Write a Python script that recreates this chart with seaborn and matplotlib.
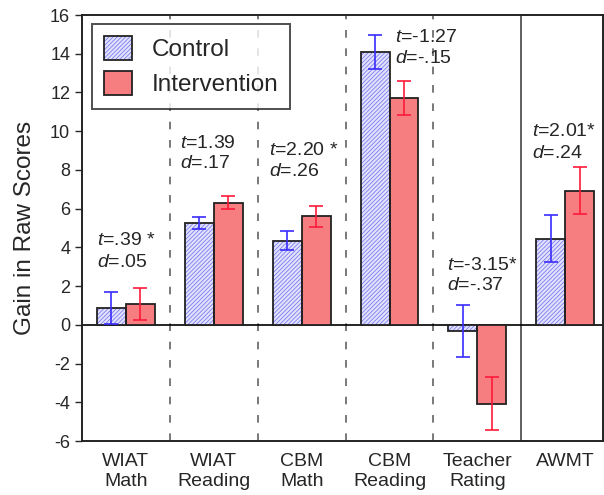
import matplotlib
matplotlib.use("Agg")
import matplotlib.pyplot as plt
import seaborn as sns
import pandas as pd
from matplotlib.patches import Patch, Rectangle
from matplotlib.legend_handler import HandlerTuple

# ---- data ----
categories = ["WIAT\nMath", "WIAT\nReading", "CBM\nMath", "CBM\nReading", "Teacher\nRating", "AWMT"]
control_vals = [0.87, 5.25, 4.35, 14.08, -0.32, 4.45]
control_err = [0.85, 0.30, 0.50, 0.87, 1.33, 1.20]
interv_vals = [1.07, 6.30, 5.60, 11.70, -4.07, 6.93]
interv_err = [0.84, 0.33, 0.55, 0.87, 1.35, 1.22]
t_labels = ["=.39 *", "=1.39", "=2.20 *", "=-1.27", "=-3.15*", "=2.01*"]
d_labels = ["=.05", "=.17", "=.26", "=-.15", "=-.37", "=.24"]
groups = ["Control", "Intervention"]

# annotation layout (x start in category units, baselines in data units)
ann_x = [-0.324, 0.619, 1.631, 3.063, 3.653, 4.619]
ann_t_y = [4.13, 9.14, 8.78, 14.63, 2.84, 9.73]
ann_d_y = [3.00, 8.11, 7.70, 13.52, 1.81, 8.64]

sns.set_style("white")
plt.rcParams["font.family"] = ["Liberation Sans", "DejaVu Sans"]
plt.rcParams["mathtext.fontset"] = "custom"
plt.rcParams["mathtext.rm"] = "Liberation Sans"
plt.rcParams["mathtext.it"] = "Liberation Sans:italic"
plt.rcParams["hatch.linewidth"] = 0.6
plt.rcParams["axes.unicode_minus"] = False

ctrl_fill = "#e2e2ff"
ctrl_hatch = "#7c7cf0"
int_fill = "#f67e80"
HATCH = "////////"

df = pd.DataFrame({
    "measure": categories * 2,
    "group": ["Control"] * len(categories) + ["Intervention"] * len(categories),
    "value": control_vals + interv_vals,
})

fig = plt.figure(figsize=(6.04, 4.95), dpi=100)
ax = fig.add_axes([82 / 604, 1 - 441 / 495, (603 - 82) / 604, (441 - 15) / 495])

# separators
for i in range(4):
    ax.axvline(i + 0.5, color="#555555", lw=1.1, ls=(0, (5, 7)), zorder=0)
ax.axvline(4.5, color="#444444", lw=1.2, zorder=0)
ax.axhline(0, color="black", lw=1.2, zorder=1)

sns.barplot(data=df, x="measure", y="value", hue="group", hue_order=groups,
            order=categories, palette=[ctrl_fill, int_fill], width=0.66,
            saturation=1, errorbar=None, legend=False, ax=ax, zorder=2)

ctrl_bars = ax.containers[0]
int_bars = ax.containers[1]
for p in ctrl_bars:
    p.set_hatch(HATCH)
    p.set_edgecolor(ctrl_hatch)
    p.set_linewidth(0)
    ax.add_patch(Rectangle(p.get_xy(), p.get_width(), p.get_height(), fill=False,
                           edgecolor="#222222", lw=1.3, zorder=3))
for p in int_bars:
    p.set_edgecolor("#222222")
    p.set_linewidth(1.3)

cx = [p.get_x() + p.get_width() / 2 for p in ctrl_bars]
ix = [p.get_x() + p.get_width() / 2 for p in int_bars]
ax.errorbar(cx, control_vals, yerr=control_err, fmt="none", ecolor="#3a2cff",
            elinewidth=1.2, capsize=5, capthick=1.2, zorder=4)
ax.errorbar(ix, interv_vals, yerr=interv_err, fmt="none", ecolor="#ff1a3a",
            elinewidth=1.2, capsize=5, capthick=1.2, zorder=4)

for i in range(len(categories)):
    ax.text(ann_x[i], ann_t_y[i], r"$\it{t}$" + t_labels[i], fontsize=14,
            ha="left", va="baseline", zorder=5)
    ax.text(ann_x[i], ann_d_y[i], r"$\it{d}$" + d_labels[i], fontsize=14,
            ha="left", va="baseline", zorder=5)

ax.set_xlim(-0.5, 5.43)
ax.set_ylim(-6, 16)
ax.set_yticks(range(-6, 17, 2))
ax.set_xlabel("")
ax.set_ylabel("Gain in Raw Scores", fontsize=17.5, labelpad=10)
ax.tick_params(axis="y", direction="out", length=5, width=1, labelsize=13, left=True)
ax.tick_params(axis="x", length=0, labelsize=14, pad=9)
for s in ax.spines.values():
    s.set_visible(True)
    s.set_color("#222222")
    s.set_linewidth(1.4)

h_ctrl = (Patch(facecolor=ctrl_fill, edgecolor=ctrl_hatch, hatch=HATCH, lw=0),
          Patch(facecolor="none", edgecolor="#222222", lw=1.3))
h_int = Patch(facecolor=int_fill, edgecolor="#222222", lw=1.3)
leg = ax.legend([h_ctrl, h_int], groups, loc="upper left", bbox_to_anchor=(0.019, 0.979),
                borderaxespad=0, fontsize=17.5, frameon=True, fancybox=False,
                handlelength=1.15, handleheight=1.15, borderpad=0.5, labelspacing=0.4,
                handletextpad=0.8, handler_map={tuple: HandlerTuple(ndivide=1, pad=0)})
leg.get_frame().set_edgecolor("#222222")
leg.get_frame().set_linewidth(1.4)

fig.savefig("out.png", dpi=100)
